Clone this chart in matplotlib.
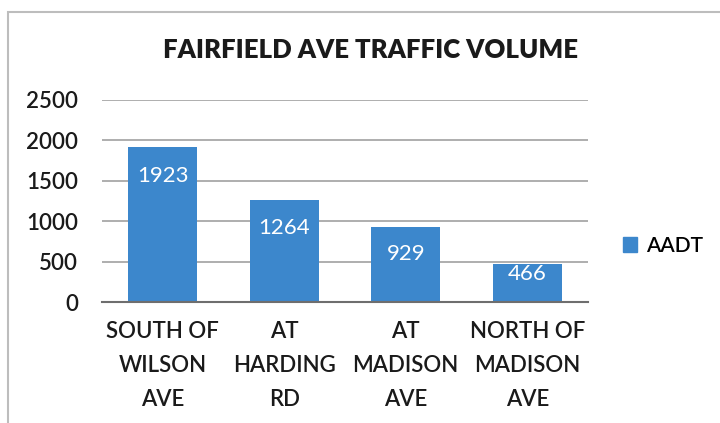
import matplotlib.pyplot as plt
from matplotlib.patches import Rectangle, Patch

categories = ['SOUTH OF\nWILSON\nAVE', 'AT\nHARDING\nRD', 'AT\nMADISON\nAVE', 'NORTH OF\nMADISON\nAVE']
aadt = [1923, 1264, 929, 466]
yticks = [0, 500, 1000, 1500, 2000, 2500]

bar_color = '#3c87cc'
plt.rcParams['font.family'] = ['Lato', 'DejaVu Sans']
txt = '#1a1a1a'

W, H = 720, 423
fig = plt.figure(figsize=(W / 100, H / 100), dpi=100)
fig.patch.set_facecolor('white')

# chart frame (scanned, only top/left visible)
fig.add_artist(Rectangle((8 / W, -0.05), 1.2, 1 - 12 / H + 0.05, transform=fig.transFigure,
                         fill=False, edgecolor='#bdbdbd', linewidth=1.5))

ax = fig.add_axes([102 / W, 1 - 302 / H, (588 - 102) / W, (302 - 100) / H])
x = range(len(categories))
bars = ax.bar(x, aadt, width=0.57, color=bar_color, zorder=3)

ax.set_ylim(0, 2500)
ax.set_xlim(-0.5, len(categories) - 0.5)
ax.set_yticks(yticks)
ax.set_yticklabels([str(v) for v in yticks], fontsize=16, color=txt, fontweight='semibold')
ax.set_xticks(list(x))
ax.set_xticklabels(categories, fontsize=16, color=txt, linespacing=1.75, fontweight='semibold')
ax.tick_params(axis='y', length=0, pad=17)
ax.tick_params(axis='x', length=0, pad=14)
ax.grid(axis='y', color='#a8a8a8', linewidth=1.3, zorder=0)
for s in ['left', 'right', 'top']:
    ax.spines[s].set_visible(False)
ax.spines['bottom'].set_color('#6e6e6e')
ax.spines['bottom'].set_linewidth(1.5)
ax.spines['bottom'].set_zorder(4)

offsets = [-29, -28, -27, -10]
for b, v, off in zip(bars, aadt, offsets):
    ax.annotate(str(v), (b.get_x() + b.get_width() / 2, v), xytext=(0, off),
                textcoords='offset pixels', ha='center', va='center',
                color='white', fontsize=16, zorder=5)

fig.text(371 / W, 1 - 50 / H, 'FAIRFIELD AVE TRAFFIC VOLUME', ha='center', va='center',
         fontsize=18.5, fontweight='heavy', color=txt)

fig.legend(handles=[Patch(color=bar_color, label='AADT')], loc='center left',
           bbox_to_anchor=(604 / W, 1 - 246 / H), frameon=False,
           prop={'weight': 'semibold', 'size': 15},
           handlelength=0.7, handleheight=0.7, handletextpad=0.4)

fig.savefig('out.png', dpi=100)
